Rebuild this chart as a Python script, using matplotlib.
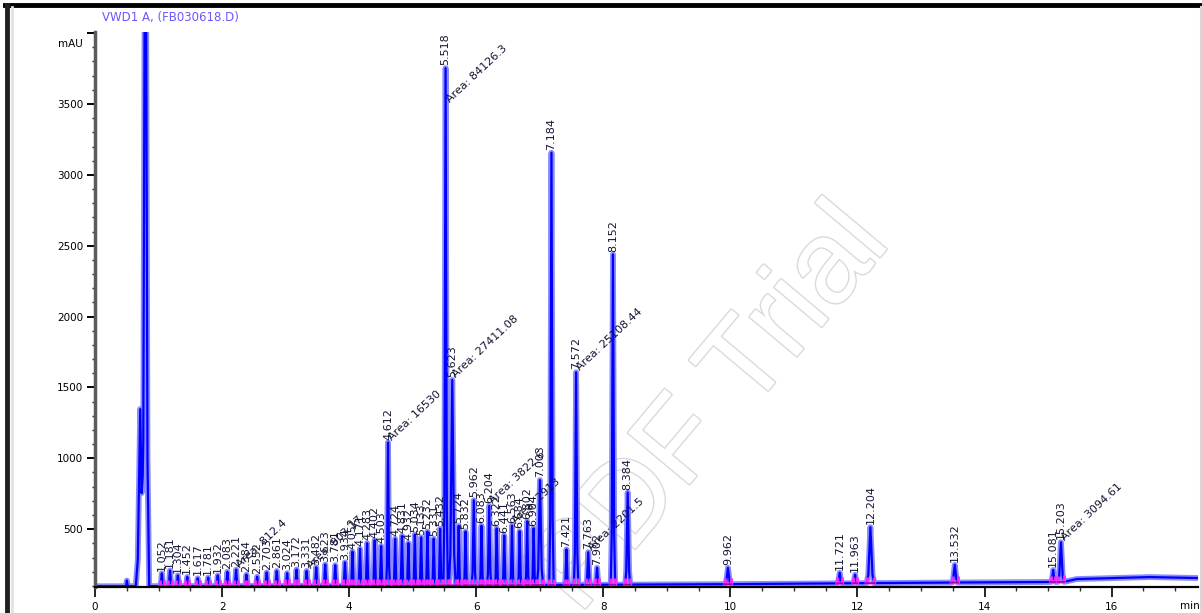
import numpy as np
import matplotlib
matplotlib.use("Agg")
import matplotlib.pyplot as plt
from matplotlib.ticker import MultipleLocator, FixedLocator
import matplotlib.patheffects as pe
from matplotlib.lines import Line2D

# ---------------- data ----------------
title_text = "VWD1 A, (FB030618.D)"
y_unit = "mAU"
x_unit = "min"
x_tick_values = [0, 2, 4, 6, 8, 10, 12, 14, 16]
y_tick_values = [500, 1000, 1500, 2000, 2500, 3000, 3500]

# detector baseline drift (time in min, signal in mAU)
baseline_time = [0.0, 2.0, 5.0, 8.0, 10.0, 13.0, 15.25, 15.45, 16.0, 16.6, 17.4]
baseline_value = [97, 99, 102, 108, 112, 122, 128, 148, 155, 162, 155]

# peaks: retention time (min), height above baseline (mAU), half base width (min)
peak_rt = [0.502, 0.712, 0.793,
           1.052, 1.181, 1.304, 1.452, 1.617, 1.781, 1.932, 2.083, 2.221, 2.384,
           2.552, 2.703, 2.861, 3.024, 3.172, 3.331, 3.482, 3.623, 3.781, 3.934,
           4.052, 4.171, 4.283, 4.402, 4.503, 4.612, 4.724, 4.831, 4.932, 5.034,
           5.133, 5.232, 5.331, 5.432, 5.518, 5.623, 5.724, 5.832, 5.962, 6.083,
           6.204, 6.322, 6.441, 6.563, 6.684, 6.802, 6.904, 7.003, 7.184, 7.421,
           7.572, 7.763, 7.902, 8.152, 8.384, 9.962, 11.721, 11.963, 12.204,
           13.532, 15.081, 15.203]
peak_height = [40, 1250, 6000,
               90, 110, 75, 65, 55, 60, 75, 100, 115, 80,
               65, 95, 105, 90, 115, 105, 130, 150, 145, 165,
               240, 260, 300, 320, 280, 1010, 330, 350, 300, 360,
               340, 380, 330, 400, 3650, 1450, 420, 380, 600, 420,
               560, 400, 350, 420, 380, 450, 400, 740, 3050, 250,
               1500, 230, 120, 2330, 650, 115, 75, 60, 395,
               125, 85, 280]
peak_halfwidth = [0.02, 0.07, 0.06,
                  0.03, 0.03, 0.03, 0.03, 0.03, 0.03, 0.03, 0.03, 0.03, 0.03,
                  0.03, 0.03, 0.03, 0.03, 0.03, 0.03, 0.03, 0.03, 0.03, 0.03,
                  0.03, 0.03, 0.03, 0.03, 0.03, 0.03, 0.03, 0.03, 0.03, 0.03,
                  0.03, 0.03, 0.03, 0.03, 0.035, 0.055, 0.03, 0.03, 0.035, 0.03,
                  0.035, 0.03, 0.03, 0.03, 0.03, 0.03, 0.03, 0.05, 0.035, 0.03,
                  0.035, 0.035, 0.03, 0.035, 0.04, 0.05, 0.04, 0.03, 0.06,
                  0.05, 0.035, 0.05]
unlabeled_rt = [0.502, 0.712, 0.793]

# slanted peak annotations
diag_rt = [2.221, 3.331, 4.612, 5.518, 5.623, 6.204, 6.563, 7.572, 7.763, 15.203]
diag_text = ["Area: 812.4", "Area: 903.17", "Area: 16530", "Area: 84126.3",
             "Area: 27411.08", "Area: 3822.6", "Area: 2913", "Area: 25108.44",
             "Area: 2201.5", "Area: 3094.61"]

# ---------------- build the trace from the peak table ----------------
shape_off = np.array([-1.0, -0.55, -0.25, 0.0, 0.25, 0.55, 1.0])
shape_frac = np.array([0.0, 0.15, 0.6, 1.0, 0.6, 0.15, 0.0])

nodes = set(baseline_time)
for rt, w in zip(peak_rt, peak_halfwidth):
    nodes.update((rt + shape_off * w).tolist())
t = np.array(sorted(nodes))
base = np.interp(t, baseline_time, baseline_value).astype(float)
signal = base.copy()
for rt, h, w in zip(peak_rt, peak_height, peak_halfwidth):
    signal += np.interp(t, rt + shape_off * w, h * shape_frac, left=0, right=0)


def trace_at(x):
    return float(np.interp(x, t, signal))


def base_at(x):
    return float(np.interp(x, baseline_time, baseline_value))


# ---------------- figure ----------------
W, H = 1202, 613
fig = plt.figure(figsize=(W / 100, H / 100), dpi=100)
fig.patch.set_facecolor("white")
ax = fig.add_axes([95 / W, 26 / H, 1103 / W, 555 / H])
ax.set_xlim(0, 17.36)
ax.set_ylim(92, 4008)

for s in ("top", "right"):
    ax.spines[s].set_visible(False)
ax.spines["left"].set_color("#5a5a5a")
ax.spines["left"].set_linewidth(2.5)
ax.spines["bottom"].set_color("black")
ax.spines["bottom"].set_linewidth(1.6)

ax.xaxis.set_major_locator(FixedLocator(x_tick_values))
ax.xaxis.set_minor_locator(MultipleLocator(0.5))
ax.set_xticklabels([str(v) for v in x_tick_values])
ax.yaxis.set_major_locator(FixedLocator(y_tick_values + [4000]))
ax.yaxis.set_minor_locator(MultipleLocator(100))
ax.set_yticklabels([str(v) for v in y_tick_values] + [""])
ax.tick_params(axis="x", which="major", direction="out", length=7, width=1.2,
               pad=3.5, labelsize=7.5, colors="black")
ax.tick_params(axis="x", which="minor", direction="out", length=3, width=1.0,
               color="#333333")
ax.tick_params(axis="y", which="major", direction="out", length=5.5, width=1.4,
               pad=3, labelsize=7.5, colors="black")
ax.tick_params(axis="y", which="minor", direction="out", length=2.5, width=1.0,
               color="#222222")

ax.text(-0.011, 3924, y_unit, transform=ax.get_yaxis_transform(), ha="right",
        va="center", fontsize=7.5, color="black")
ax.text(17.23, -0.026, x_unit, transform=ax.get_xaxis_transform(), ha="center",
        va="top", fontsize=7.5, color="black")

# watermark (partly cut by the page bottom, as in the reference)
ax.text(712 / W, 1 - 410 / H, "PDF Trial", transform=fig.transFigure,
        rotation=50, ha="center", va="center", fontsize=84,
        family="Liberation Sans", color="white", zorder=0.5,
        path_effects=[pe.withStroke(linewidth=2.0, foreground="#dadada")])

# chromatogram
ax.plot(t, signal, color="#8c8cff", lw=4.2, zorder=2, solid_joinstyle="round")
ax.plot(t, signal, color="#0000ff", lw=1.6, zorder=2.1)

# integration baselines and peak start/end marks (magenta)
for rt, w in zip(peak_rt, peak_halfwidth):
    if rt in unlabeled_rt:
        continue
    xs = [rt - w, rt + w]
    ys = [trace_at(rt - w), trace_at(rt + w)]
    ax.plot(xs, ys, color="#ff40ff", lw=3.0, alpha=0.55, zorder=2.2)
    ax.plot(xs, ys, color="#a000a0", lw=1.2, zorder=2.3)
    for x0 in xs:
        ax.plot([x0, x0], [base_at(x0), trace_at(x0) + 45], color="#ff28ff",
                lw=2.0, zorder=2.25, solid_capstyle="butt")

# vertical retention-time labels
for rt in peak_rt:
    if rt in unlabeled_rt:
        continue
    ax.annotate(f"{rt:.3f}", xy=(rt, trace_at(rt)), xytext=(0, 2),
                textcoords="offset points", rotation=90, ha="center",
                va="bottom", fontsize=8, color="#141433", zorder=3,
                annotation_clip=False)

# slanted annotations
diag_drop = {5.518: -26}
for rt, txt in zip(diag_rt, diag_text):
    ax.annotate(txt, xy=(rt, trace_at(rt)), xytext=(4, diag_drop.get(rt, 0)),
                textcoords="offset points", rotation=43, rotation_mode="anchor",
                ha="left", va="bottom", fontsize=8, color="#141433", zorder=3,
                annotation_clip=False)

# title
fig.text(102 / W, 1 - 17 / H, title_text, color="#6a58ff", fontsize=8.5,
         va="center", ha="left")

# page frame
fig.add_artist(Line2D([5 / W, 1], [1 - 5 / H, 1 - 5 / H], transform=fig.transFigure,
                      color="black", lw=3.5))
fig.add_artist(Line2D([7 / W, 7 / W], [0, 1 - 5 / H], transform=fig.transFigure,
                      color="#202020", lw=3.5))
fig.add_artist(Line2D([11.5 / W, 11.5 / W], [0, 1 - 7 / H], transform=fig.transFigure,
                      color="#e2e2e2", lw=2))
fig.add_artist(Line2D([1200.5 / W, 1200.5 / W], [0, 1 - 7 / H], transform=fig.transFigure,
                      color="#d8d8d8", lw=1.5))

fig.savefig("out.png", dpi=100, facecolor="white")
